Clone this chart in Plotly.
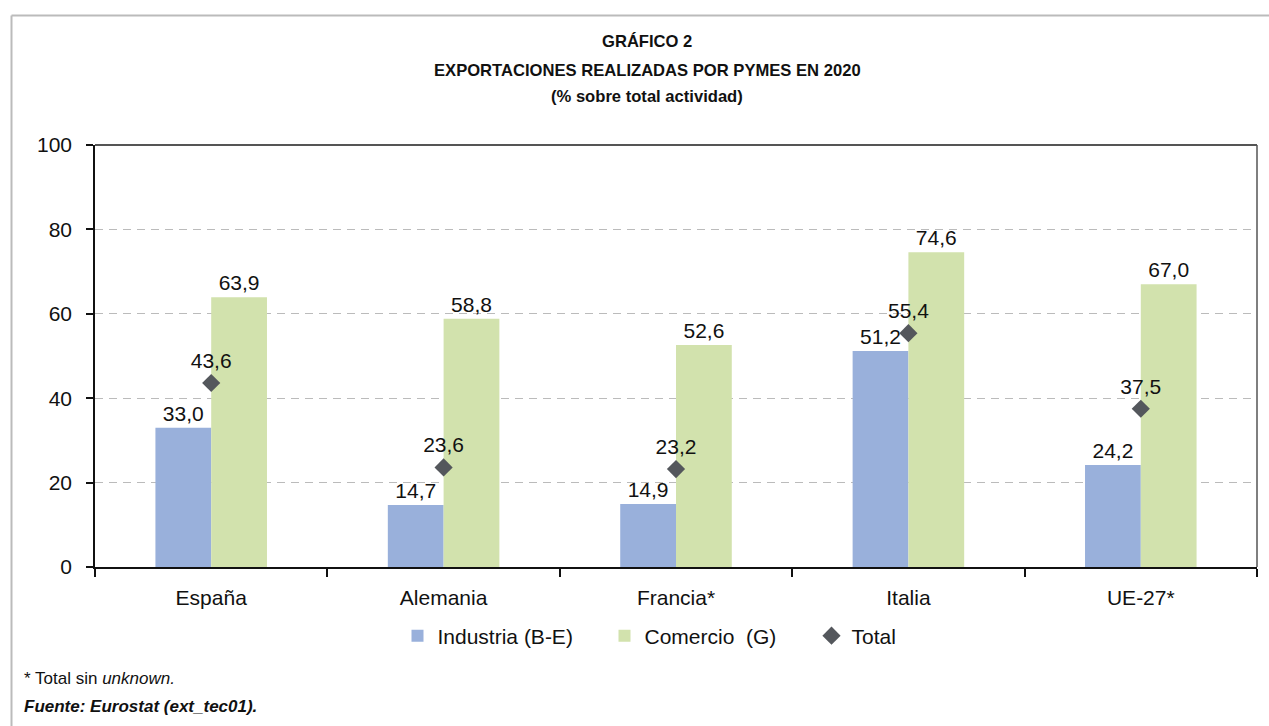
import plotly.graph_objects as go

categories = ["España", "Alemania", "Francia*", "Italia", "UE-27*"]
industria = [33.0, 14.7, 14.9, 51.2, 24.2]
comercio = [63.9, 58.8, 52.6, 74.6, 67.0]
total = [43.6, 23.6, 23.2, 55.4, 37.5]
y_ticks = [0, 20, 40, 60, 80, 100]

W, H = 1269, 726
L, R, T, B = 95, 1257, 145, 567  # plot area pixel box

def px(x):
    return (x - L) / (R - L)

def py(y):
    return (B - y) / (B - T)

FONT = "Liberation Sans, Arial, Helvetica, sans-serif"

fig = go.Figure()
fig.add_trace(go.Bar(
    x=categories, y=industria, name="Industria (B-E)",
    marker=dict(color="#99B0DB", line=dict(width=0)),
    texttemplate="%{y:.1f}", textposition="outside",
    textfont=dict(size=21, color="#111"), cliponaxis=False,
))
fig.add_trace(go.Bar(
    x=categories, y=comercio, name="Comercio  (G)",
    marker=dict(color="#D2E2AD", line=dict(width=0)),
    texttemplate="%{y:.1f}", textposition="outside",
    textfont=dict(size=21, color="#111"), cliponaxis=False,
))
fig.add_trace(go.Scatter(
    x=categories, y=total, name="Total", mode="markers+text",
    marker=dict(symbol="diamond", size=14, color="#54575C"),
    texttemplate="%{y:.1f}", textposition="top center",
    textfont=dict(size=21, color="#111"), cliponaxis=False,
))

title_lines = ["GRÁFICO 2", "EXPORTACIONES REALIZADAS POR PYMES EN 2020",
               "(% sobre total actividad)"]
annotations = []
for line, ypix in zip(title_lines, [42, 70, 97]):
    annotations.append(dict(
        text="<b>" + line + "</b>", x=px(647), y=py(ypix), xref="paper", yref="paper",
        showarrow=False, xanchor="center", yanchor="middle",
        font=dict(family=FONT, size=16.6, color="#111"),
    ))
annotations.append(dict(
    text="* Total sin <i>unknown.</i>", x=px(22), y=py(678), xref="paper", yref="paper",
    showarrow=False, xanchor="left", yanchor="middle",
    font=dict(family=FONT, size=17, color="#111"),
))
annotations.append(dict(
    text="<b><i>Fuente: Eurostat (ext_tec01).</i></b>", x=px(22), y=py(706),
    xref="paper", yref="paper", showarrow=False, xanchor="left", yanchor="middle",
    font=dict(family=FONT, size=17, color="#111"),
))

shapes = [
    dict(type="line", xref="paper", yref="paper", x0=px(11.5), x1=px(1269), y0=py(15.5), y1=py(15.5),
         line=dict(color="#BBBBBB", width=2)),
    dict(type="line", xref="paper", yref="paper", x0=px(11.5), x1=px(11.5), y0=py(15.5), y1=py(726),
         line=dict(color="#BBBBBB", width=2)),
    dict(type="line", xref="paper", yref="paper", x0=0, x1=1, y0=1, y1=1,
         line=dict(color="#555555", width=2)),
    dict(type="line", xref="paper", yref="paper", x0=1, x1=1, y0=0, y1=1,
         line=dict(color="#555555", width=1.5)),
]

fig.update_layout(
    width=W, height=H,
    margin=dict(l=L, r=W - R, t=T, b=H - B, pad=0),
    paper_bgcolor="white", plot_bgcolor="white",
    font=dict(family=FONT, size=21, color="#111"),
    separators=",.",
    barmode="group", bargap=0.52, bargroupgap=0,
    showlegend=True,
    legend=dict(orientation="h", x=px(708), y=py(636), xanchor="center", yanchor="middle",
                font=dict(size=21), itemwidth=30, entrywidth=162, tracegroupgap=0),
    annotations=annotations, shapes=shapes,
    xaxis=dict(
        showline=True, linecolor="#111", linewidth=1.5,
        ticks="outside", ticklen=8, tickcolor="#111", tickwidth=2,
        tickson="boundaries", showgrid=False,
        tickfont=dict(size=21), ticklabelstandoff=11,
    ),
    yaxis=dict(
        range=[0, 100], tickvals=y_ticks, ticks="outside", ticklen=7,
        tickcolor="#111", tickwidth=2,
        showline=True, linecolor="#111", linewidth=1.5,
        showgrid=True, gridcolor="#BBBBBB", gridwidth=1, griddash="8px,6px",
        zeroline=False, tickfont=dict(size=21), ticklabelstandoff=10,
    ),
)

fig.write_html("out.html", config={"displayModeBar": False},
               post_script="document.body.style.margin='0';")
